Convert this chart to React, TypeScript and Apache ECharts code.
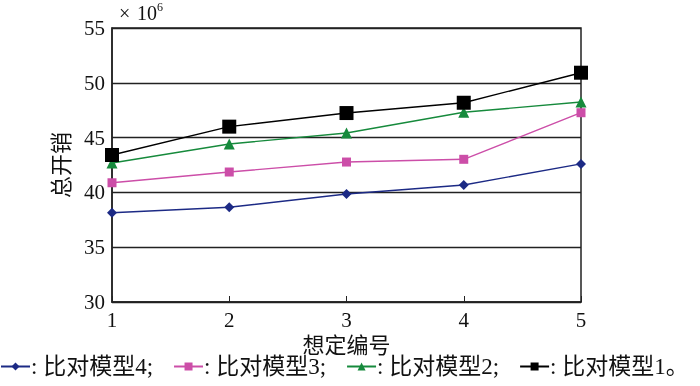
import React, { useEffect, useRef } from "react";
import * as echarts from "echarts";

const categories = ["1", "2", "3", "4", "5"];
const model4 = [38.15, 38.64, 39.85, 40.68, 42.6];
const model3 = [40.88, 41.86, 42.77, 43.02, 47.27];
const model2 = [42.68, 44.42, 45.42, 47.31, 48.25];
const model1 = [43.41, 46.0, 47.24, 48.18, 50.92];
const yTicks = { min: 30, max: 55, interval: 5 };

const FONT = "'Liberation Serif', 'Noto Sans CJK SC', serif";

export default function App() {
  const ref = useRef<HTMLDivElement>(null);
  useEffect(() => {
    if (!ref.current) return;
    const chart = echarts.init(ref.current, undefined, { renderer: "svg" });
    const mk = (name: string, data: number[], color: string, symbol: string, size: number) => ({
      name,
      type: "line",
      data,
      symbol,
      symbolSize: size,
      lineStyle: { color, width: 1.4 },
      itemStyle: { color },
    });
    chart.setOption({
      animation: false,
      textStyle: { fontFamily: FONT },
      graphic: [
        {
          type: "text",
          x: 119,
          y: 3,
          style: { text: "×", font: "20px 'Liberation Serif'", fill: "#111", verticalAlign: "top", align: "left" },
        },
        {
          type: "text",
          x: 137,
          y: 3,
          style: { text: "10", font: "20px 'Liberation Serif'", fill: "#111", verticalAlign: "top", align: "left" },
        },
        {
          type: "text",
          x: 157,
          y: 1,
          style: { text: "6", font: "12px 'Liberation Serif'", fill: "#111", verticalAlign: "top", align: "left" },
        },
      ],
      grid: { left: 112, right: 119, top: 28, bottom: 84, show: true, borderColor: "#222", borderWidth: 1.5 },
      xAxis: {
        type: "category",
        data: categories,
        boundaryGap: false,
        name: "想定编号",
        nameLocation: "middle",
        nameGap: 31,
        nameTextStyle: { fontSize: 22, color: "#111", fontFamily: FONT },
        axisLine: { lineStyle: { color: "#222", width: 1.5 } },
        axisTick: { inside: true, length: 6, lineStyle: { color: "#222" } },
        axisLabel: { fontSize: 21, color: "#111", margin: 7, fontFamily: FONT },
      },
      yAxis: {
        type: "value",
        min: yTicks.min,
        max: yTicks.max,
        interval: yTicks.interval,
        name: "总开销",
        nameLocation: "middle",
        nameGap: 40,
        nameTextStyle: { fontSize: 22, color: "#111", fontFamily: FONT },
        axisLine: { show: true, lineStyle: { color: "#222", width: 1.5 } },
        axisTick: { show: false },
        axisLabel: { fontSize: 21, color: "#111", margin: 7, fontFamily: FONT },
        splitLine: { show: true, lineStyle: { color: "#222", width: 1.3 } },
      },
      legend: {
        left: 0,
        top: 355,
        width: 760,
        padding: 0,
        itemWidth: 29,
        itemHeight: 10,
        itemGap: 20,
        formatter: (name: string) => (name === "比对模型1" ? ": " + name + "。" : ": " + name + ";"),
        textStyle: { fontSize: 23, color: "#111", fontFamily: FONT, padding: [0, 0, 0, -4] },
        data: ["比对模型4", "比对模型3", "比对模型2", "比对模型1"],
      },
      series: [
        mk("比对模型4", model4, "#1c2a85", "diamond", 10),
        mk("比对模型3", model3, "#cc4ea8", "rect", 9),
        mk("比对模型2", model2, "#168a3c", "triangle", 11),
        mk("比对模型1", model1, "#000000", "rect", 14),
      ],
    });
    return () => chart.dispose();
  }, []);
  return <div ref={ref} style={{ position: "fixed", left: 0, top: 0, width: 700, height: 386 }} />;
}
